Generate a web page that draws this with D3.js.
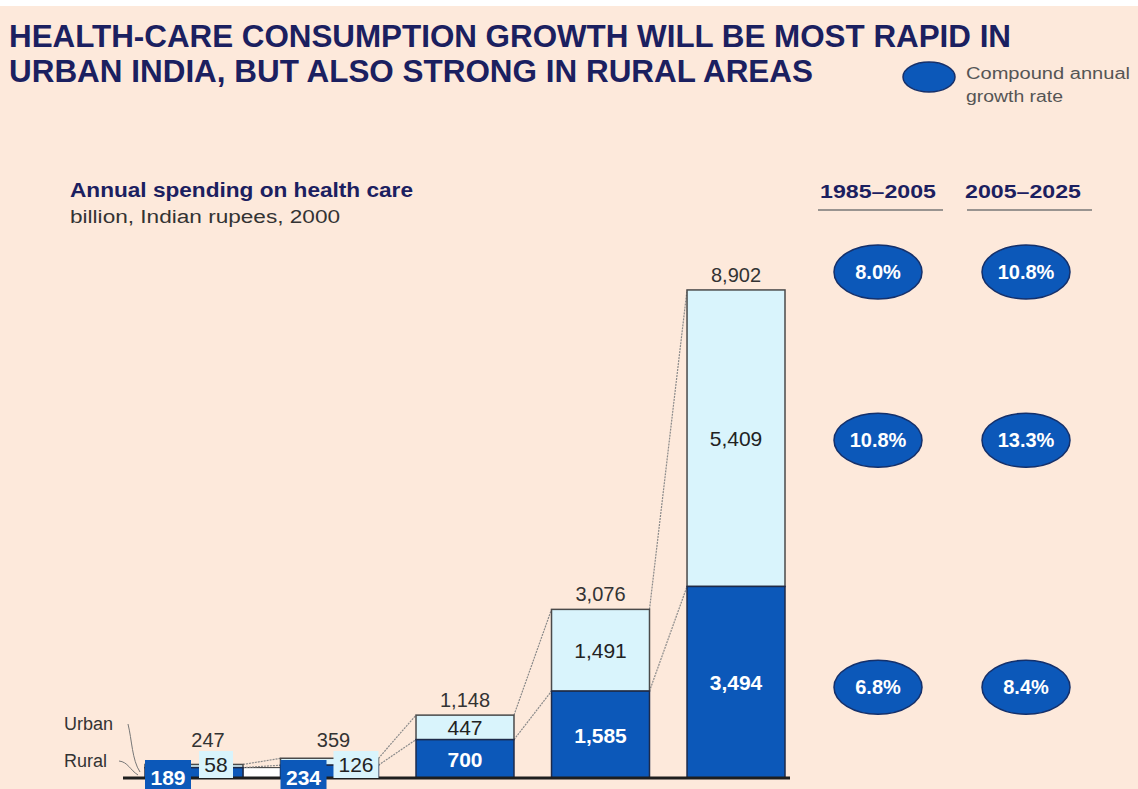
<!DOCTYPE html>
<html lang="en">
<head>
<meta charset="UTF-8"/>
<title>Health-care consumption growth in India</title>
<script src="https://d3js.org/d3.v7.min.js"></script>
<style>
  body { margin: 0; background: #ffffff; }
  svg { display: block; font-family: "Liberation Sans", Arial, sans-serif; }
</style>
</head>
<body>
<script>
// ***Data***
var years   = ["1985", "1995", "2005", "2015", "2025"];
var rural   = [189, 234, 700, 1585, 3494];
var urban   = [58, 126, 447, 1491, 5409];
var totals  = [247, 359, 1148, 3076, 8902];
var periods = ["1985\u20132005", "2005\u20132025"];
var growthTotal = ["8.0%", "10.8%"];
var growthUrban = ["10.8%", "13.3%"];
var growthRural = ["6.8%", "8.4%"];

var w = 1138, h = 789;
var dark = "#0c58b9", light = "#d9f4fc", navy = "#1b2060", edge = "#4a4a4a";

var svg = d3.select("body").append("svg")
  .attr("width", w).attr("height", h);

svg.append("rect").attr("x", 0).attr("y", 6).attr("width", w).attr("height", h - 6)
  .attr("fill", "#fde9db");

// title
var title = ["HEALTH-CARE CONSUMPTION GROWTH WILL BE MOST RAPID IN",
             "URBAN INDIA, BUT ALSO STRONG IN RURAL AREAS"];
var titleLen = [1002, 804];
svg.selectAll(".title").data(title).enter().append("text")
  .attr("class", "title")
  .attr("x", 9).attr("y", function(d, i) { return 47 + i * 35; })
  .attr("textLength", function(d, i) { return titleLen[i]; })
  .attr("lengthAdjust", "spacingAndGlyphs")
  .attr("font-size", 31).attr("font-weight", "bold").attr("fill", navy)
  .text(function(d) { return d; });

// legend
svg.append("ellipse").attr("cx", 929).attr("cy", 77).attr("rx", 26).attr("ry", 15)
  .attr("fill", dark).attr("stroke", "#16306a").attr("stroke-width", 1.5);
svg.append("text").attr("x", 966).attr("y", 79).attr("font-size", 16).attr("fill", "#555")
  .attr("textLength", 164).attr("lengthAdjust", "spacingAndGlyphs").text("Compound annual");
svg.append("text").attr("x", 966).attr("y", 102).attr("font-size", 16).attr("fill", "#555")
  .attr("textLength", 97).attr("lengthAdjust", "spacingAndGlyphs").text("growth rate");

// subtitle
svg.append("text").attr("x", 70).attr("y", 197).attr("font-size", 20)
  .attr("textLength", 343).attr("lengthAdjust", "spacingAndGlyphs")
  .attr("font-weight", "bold").attr("fill", navy).text("Annual spending on health care");
svg.append("text").attr("x", 70).attr("y", 223).attr("font-size", 18)
  .attr("textLength", 270).attr("lengthAdjust", "spacingAndGlyphs")
  .attr("fill", "#333").text("billion, Indian rupees, 2000");

// ***Scales***
var x = d3.scaleBand().domain(years).range([145, 785]).paddingInner(0.277).paddingOuter(0);
var y = d3.scaleLinear().domain([0, 8902]).range([778, 290]);
var bw = x.bandwidth();

// connectors between bars
var pairs = d3.range(years.length - 1);
svg.append("rect")
  .attr("x", x(years[0]) + bw).attr("y", y(rural[0]))
  .attr("width", x(years[1]) - x(years[0]) - bw).attr("height", y(0) - y(rural[0]))
  .attr("fill", "#ffffff").attr("stroke", "#333").attr("stroke-width", 1);
[totals, rural].forEach(function(series) {
  svg.selectAll(null).data(pairs).enter().append("line")
    .attr("x1", function(i) { return x(years[i]) + bw; })
    .attr("y1", function(i) { return y(series[i]); })
    .attr("x2", function(i) { return x(years[i + 1]); })
    .attr("y2", function(i) { return y(series[i + 1]); })
    .attr("stroke", "#8a8a8a").attr("stroke-width", 1.2).attr("stroke-dasharray", "2,1");
});

// bars
svg.selectAll(".urban").data(years).enter().append("rect")
  .attr("x", function(d) { return x(d); })
  .attr("y", function(d, i) { return y(rural[i] + urban[i]); })
  .attr("width", bw)
  .attr("height", function(d, i) { return y(rural[i]) - y(rural[i] + urban[i]); })
  .attr("fill", light).attr("stroke", edge).attr("stroke-width", 1.5);
svg.selectAll(".rural").data(years).enter().append("rect")
  .attr("x", function(d) { return x(d); })
  .attr("y", function(d, i) { return y(rural[i]); })
  .attr("width", bw)
  .attr("height", function(d, i) { return y(0) - y(rural[i]); })
  .attr("fill", dark).attr("stroke", "#1d2a4a").attr("stroke-width", 1.5);

// baseline
svg.append("line").attr("x1", 123).attr("x2", 790).attr("y1", y(0)).attr("y2", y(0))
  .attr("stroke", "#1e1e1e").attr("stroke-width", 3);

var fmt = d3.format(",");

// labels for tall bars
years.forEach(function(d, i) {
  var cx = x(d) + bw / 2;
  if (y(0) - y(rural[i]) > 25) {
    svg.append("text").attr("x", cx).attr("y", (y(0) + y(rural[i])) / 2 + 8)
      .attr("text-anchor", "middle").attr("font-size", 21).attr("font-weight", "bold")
      .attr("fill", "#fff").text(fmt(rural[i]));
    var uTop = y(rural[i] + urban[i]), uBot = y(rural[i]);
    svg.append("text").attr("x", cx).attr("y", (uTop + uBot) / 2 + 8)
      .attr("text-anchor", "middle").attr("font-size", 21).attr("fill", "#222")
      .text(fmt(urban[i]));
    svg.append("text").attr("x", cx).attr("y", y(totals[i]) - 8)
      .attr("text-anchor", "middle").attr("font-size", 20).attr("fill", "#333")
      .text(fmt(totals[i]));
  } else {
    // small bars: labels in boxes
    var rx0 = x(d), rW = 46;
    svg.append("rect").attr("x", rx0).attr("y", 760).attr("width", rW).attr("height", 32)
      .attr("fill", dark);
    svg.append("text").attr("x", rx0 + rW / 2).attr("y", 785)
      .attr("text-anchor", "middle").attr("font-size", 21).attr("font-weight", "bold")
      .attr("fill", "#fff").text(fmt(rural[i]));
    var uW = String(urban[i]).length * 11 + 12;
    var ux0 = i === 0 ? rx0 + rW + 8 : x(d) + bw - uW;
    svg.append("rect").attr("x", ux0).attr("y", 751).attr("width", uW).attr("height", 27)
      .attr("fill", light);
    svg.append("text").attr("x", ux0 + uW / 2).attr("y", 772)
      .attr("text-anchor", "middle").attr("font-size", 21).attr("fill", "#222")
      .text(fmt(urban[i]));
    svg.append("text").attr("x", cx + (i === 0 ? 14 : 4)).attr("y", 747)
      .attr("text-anchor", "middle").attr("font-size", 20).attr("fill", "#333")
      .text(fmt(totals[i]));
  }
});

// Urban / Rural labels
svg.append("text").attr("x", 64).attr("y", 730).attr("font-size", 18).attr("fill", "#333").text("Urban");
svg.append("text").attr("x", 64).attr("y", 767).attr("font-size", 18).attr("fill", "#333").text("Rural");
svg.append("path").attr("d", "M128,724 C132,740 132,760 140,772")
  .attr("fill", "none").attr("stroke", "#777").attr("stroke-width", 1);
svg.append("path").attr("d", "M119,761 C128,762 130,770 138,775")
  .attr("fill", "none").attr("stroke", "#777").attr("stroke-width", 1);

// growth-rate columns
var colX = [878, 1026];
var lineX = [[818, 943], [967, 1092]];
periods.forEach(function(p, j) {
  svg.append("text").attr("x", colX[j] + (j === 0 ? 0 : -3)).attr("y", 198)
    .attr("text-anchor", "middle").attr("font-size", 19).attr("font-weight", "bold")
    .attr("textLength", 116).attr("lengthAdjust", "spacingAndGlyphs")
    .attr("fill", navy).text(p);
  svg.append("line").attr("x1", lineX[j][0]).attr("x2", lineX[j][1])
    .attr("y1", 210).attr("y2", 210).attr("stroke", "#777").attr("stroke-width", 1.5);
});
var last = years.length - 1;
var rows = [
  { vals: growthTotal, cy: y(totals[last]) - 18 },
  { vals: growthUrban, cy: (y(totals[last]) + y(rural[last])) / 2 + 2 },
  { vals: growthRural, cy: (y(rural[last]) + y(0)) / 2 + 5 }
];
rows.forEach(function(r) {
  r.vals.forEach(function(v, j) {
    svg.append("ellipse").attr("cx", colX[j]).attr("cy", r.cy).attr("rx", 44).attr("ry", 27)
      .attr("fill", dark).attr("stroke", "#14306b").attr("stroke-width", 1.5);
    svg.append("text").attr("x", colX[j]).attr("y", r.cy + 7)
      .attr("text-anchor", "middle").attr("font-size", 20).attr("font-weight", "bold")
      .attr("fill", "#fff").text(v);
  });
});
</script>
</body>
</html>
